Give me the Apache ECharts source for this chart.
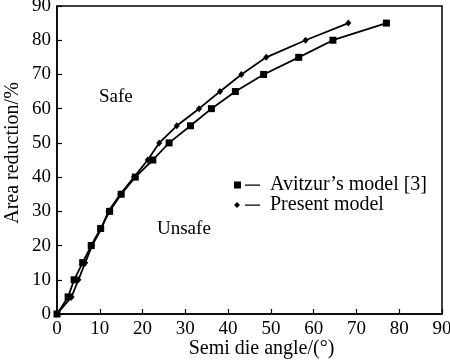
<!DOCTYPE html>
<html><head><meta charset="utf-8">
<script src="https://cdn.jsdelivr.net/npm/echarts@6/dist/echarts.min.js"></script>
<style>html,body{margin:0;padding:0;background:#fff}#c{width:450px;height:360px}</style>
</head><body><div id="c"></div>
<script>
var avitzurX = [0, 2.6, 4, 6, 8, 10.2, 12.3, 15, 18.3, 22.4, 26.2, 31.2, 36.1, 41.7, 48.3, 56.5, 64.5, 77];
var avitzurY = [0, 5, 10, 15, 20, 25, 30, 35, 40, 45, 50, 55, 60, 65, 70, 75, 80, 85];
var presentX = [0, 3.4, 5, 6.6, 8.2, 10.4, 12, 14.8, 18, 21.2, 23.9, 28, 33.2, 38.1, 43.1, 48.9, 58.1, 68.1];
var presentY = [0, 5, 10, 15, 20, 25, 30, 35, 40, 45, 50, 55, 60, 65, 70, 75, 80, 85];
var ticks = [0, 10, 20, 30, 40, 50, 60, 70, 80, 90];
var seriesNames = ['Avitzur\u2019s model [3]', 'Present model'];

function pairs(xs, ys){ return xs.map(function(x,i){ return [x, ys[i]]; }); }
var font = 'Liberation Serif';
var chart = echarts.init(document.getElementById('c'));
var axisCommon = {
  min: ticks[0], max: ticks[ticks.length-1], interval: 10,
  axisLine: {show: true, onZero: false, lineStyle: {color: '#000', width: 1.5}},
  axisTick: {show: true, inside: true, length: 5, lineStyle: {color: '#000', width: 1.2}},
  axisLabel: {color: '#000', fontFamily: font, fontSize: 19},
  splitLine: {show: false},
  nameMoveOverlap: false
};
chart.setOption({
  animation: false,
  grid: {left: 57, right: 8, top: 6, bottom: 46, show: true, borderColor: '#000', borderWidth: 1.5, containLabel: false, outerBoundsMode: 'none'},
  xAxis: Object.assign({}, axisCommon, {type: 'value', name: 'Semi die angle/(\u00b0)', nameLocation: 'middle', nameGap: 25,
    nameTextStyle: {color: '#000', fontFamily: font, fontSize: 20, padding: [0,0,0,24]},
    axisLabel: Object.assign({}, axisCommon.axisLabel, {margin: 6})}),
  yAxis: Object.assign({}, axisCommon, {type: 'value', name: 'Area reduction/%', nameLocation: 'middle', nameGap: 34, nameRotate: 90,
    nameTextStyle: {color: '#000', fontFamily: font, fontSize: 20, padding: [0,0,0,14]},
    axisLabel: Object.assign({}, axisCommon.axisLabel, {margin: 6})}),
  legend: {
    orient: 'vertical', left: 234, top: 175, padding: 0, itemGap: 0, itemWidth: 26, itemHeight: 7,
    textStyle: {color: '#000', fontFamily: font, fontSize: 20, padding: [0,0,0,5]},
    data: [
      {name: seriesNames[0], icon: 'path://M0,0h7v7h-7z M11,2.9h15v1.3h-15z'},
      {name: seriesNames[1], icon: 'path://M3,0.5L6,3.5L3,6.5L0,3.5z M11,2.9h15v1.3h-15z'}
    ]
  },
  graphic: [
    {type: 'text', left: 99, top: 88, style: {text: 'Safe', font: '19px "Liberation Serif"', fill: '#000'}},
    {type: 'text', left: 157, top: 220, style: {text: 'Unsafe', font: '19px "Liberation Serif"', fill: '#000'}}
  ],
  series: [
    {name: seriesNames[0], type: 'line', data: pairs(avitzurX, avitzurY), symbol: 'rect', symbolSize: 7,
     lineStyle: {color: '#000', width: 1.8}, itemStyle: {color: '#000'}, z: 3},
    {name: seriesNames[1], type: 'line', data: pairs(presentX, presentY), symbol: 'diamond', symbolSize: [6,7],
     lineStyle: {color: '#000', width: 1.8}, itemStyle: {color: '#000'}, z: 4}
  ]
});
</script></body></html>
